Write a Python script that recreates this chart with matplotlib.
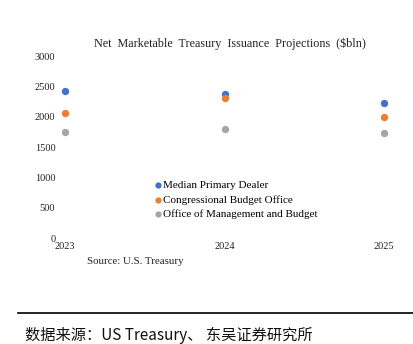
import matplotlib
matplotlib.use('Agg')
from matplotlib import pyplot as plt

# projections, $bln
years = [2023, 2024, 2025]
dealer = [2430, 2375, 2232]
cbo = [2067, 2314, 1996]
omb = [1744, 1799, 1733]
series_names = ['Median Primary Dealer', 'Congressional Budget Office',
                'Office of Management and Budget']
colors = ['#4472C4', '#ED7D31', '#A5A5A5']
yticks = [0, 500, 1000, 1500, 2000, 2500, 3000]

plt.rcParams['font.family'] = ['Liberation Serif', 'Noto Sans CJK SC']

fig = plt.figure(figsize=(4.13, 3.44), dpi=100)
ax = fig.add_axes([65 / 413, (344 - 238.3) / 344, (384 - 65) / 413, (238.3 - 56) / 344])

for vals, name, c in zip([dealer, cbo, omb], series_names, colors):
    ax.scatter(years, vals, s=28, color=c, label=name, zorder=3, linewidths=0, clip_on=False)

ax.set_xlim(2023, 2025)
ax.set_ylim(0, 3000)
ax.set_xticks(years)
ax.set_yticks(yticks)
ax.tick_params(length=0, labelsize=7.5, colors='#222222')
ax.tick_params(axis='y', pad=7)
ax.tick_params(axis='x', pad=3)
for s in ax.spines.values():
    s.set_visible(False)

fig.text(230 / 413, 1 - 44 / 344, 'Net  Marketable  Treasury  Issuance  Projections  ($bln)',
         ha='center', va='center', fontsize=8.7, color='#222222')

ax.legend(loc='upper left', bbox_to_anchor=((152 - 65) / 319, (238.3 - 180) / 182.3),
          frameon=False, fontsize=8, handletextpad=0.0, handlelength=1.0,
          labelspacing=0.45, borderpad=0, borderaxespad=0, markerscale=0.85)

fig.text(87 / 413, 1 - 262 / 344, 'Source: U.S. Treasury', ha='left', va='center',
         fontsize=7.8, color='#222222')

fig.add_artist(plt.Line2D([18 / 413, 1], [1 - 313 / 344] * 2, color='black', lw=1.2))
fig.text(25 / 413, 1 - 335 / 344, '数据来源：US Treasury、 东吴证券研究所', ha='left',
         va='center', fontsize=11, color='#111111',
         family=['Noto Sans CJK SC', 'Liberation Serif'])

fig.savefig('out.png', dpi=100)
